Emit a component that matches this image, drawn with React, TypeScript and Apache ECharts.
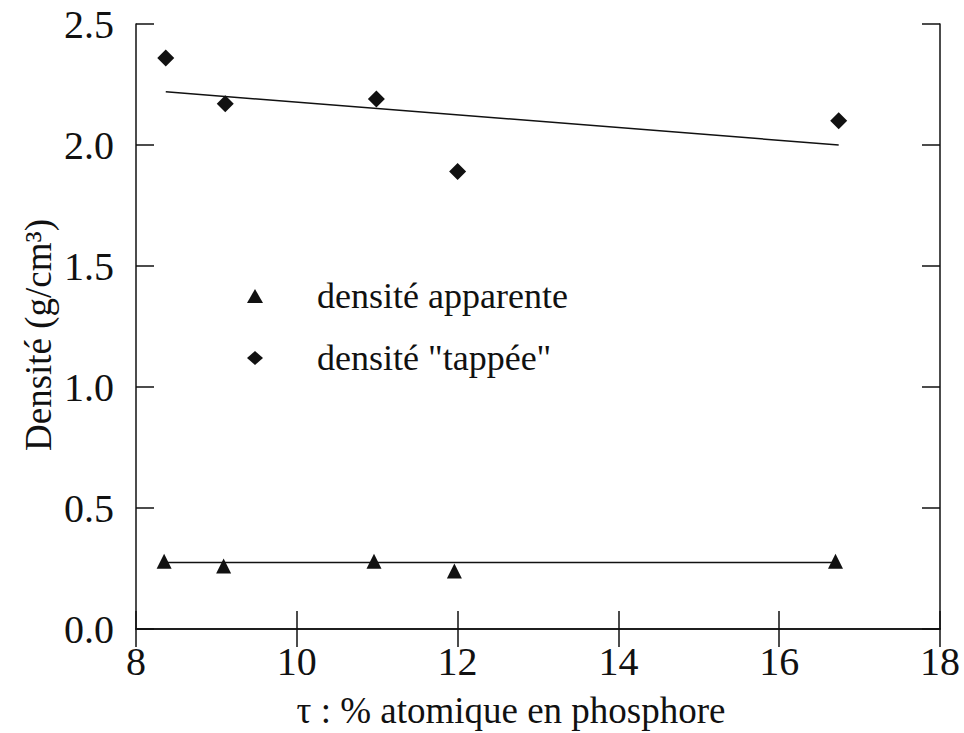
import React, { useEffect, useRef } from "react";
import * as echarts from "echarts";

// Data
const tauApparente = [8.35, 9.09, 10.96, 11.96, 16.7];
const densiteApparente = [0.28, 0.26, 0.28, 0.24, 0.28];
const tauTappee = [8.37, 9.11, 10.99, 12.0, 16.74];
const densiteTappee = [2.36, 2.17, 2.19, 1.89, 2.1];
// fitted straight lines (end points)
const fitApparenteX = [8.37, 16.7];
const fitApparenteY = [0.275, 0.275];
const fitTappeeX = [8.37, 16.74];
const fitTappeeY = [2.22, 2.0];
const xTicks = [8, 10, 12, 14, 16, 18];
const yTicks = [0, 0.5, 1.0, 1.5, 2.0, 2.5];

const FONT = "serif";
const INK = "#111";

export default function App() {
  const ref = useRef<HTMLDivElement>(null);
  useEffect(() => {
    document.body.style.margin = "0";
    if (!ref.current) return;
    const chart = echarts.init(ref.current, undefined, { renderer: "svg" });
    const pairs = (xs: number[], ys: number[]) => xs.map((x, i) => [x, ys[i]]);
    const axisLine = { show: true, lineStyle: { color: INK, width: 1.5 } };
    const tick = { show: true, inside: true, length: 18, lineStyle: { color: INK, width: 1.5 } };
    chart.setOption({
      animation: false,
      backgroundColor: "#fff",
      textStyle: { fontFamily: FONT },
      grid: { left: 136, right: 24, top: 24, bottom: 104, show: false },
      xAxis: [
        {
          type: "value", min: xTicks[0], max: xTicks[xTicks.length - 1], interval: 2,
          axisLine, axisTick: tick, splitLine: { show: false },
          axisLabel: { fontFamily: FONT, fontSize: 40, color: INK, margin: 12 },
        },
        {
          type: "value", position: "top", min: 8, max: 18, interval: 2,
          axisLine, axisTick: tick, splitLine: { show: false }, axisLabel: { show: false },
        },
      ],
      yAxis: [
        {
          type: "value", min: yTicks[0], max: yTicks[yTicks.length - 1], interval: 0.5,
          axisLine, axisTick: tick, splitLine: { show: false },
          axisLabel: { fontFamily: FONT, fontSize: 40, color: INK, margin: 22, formatter: (v: number) => v.toFixed(1) },
        },
        {
          type: "value", position: "right", min: 0, max: 2.5, interval: 0.5,
          axisLine, axisTick: tick, splitLine: { show: false }, axisLabel: { show: false },
        },
      ],
      legend: {
        data: ["densité apparente", 'densité "tappée"'],
        orient: "vertical",
        left: 242,
        top: 273,
        itemGap: 26,
        itemWidth: 16,
        itemHeight: 14,
        textStyle: { fontFamily: FONT, fontSize: 36, color: INK, padding: [0, 0, 0, 49] },
      },
      series: [
        {
          name: "densité apparente", type: "scatter", symbol: "triangle", symbolSize: 15,
          itemStyle: { color: INK, opacity: 1 }, data: pairs(tauApparente, densiteApparente), z: 3,
        },
        {
          name: 'densité "tappée"', type: "scatter", symbol: "diamond", symbolSize: 17,
          itemStyle: { color: INK, opacity: 1 }, data: pairs(tauTappee, densiteTappee), z: 3,
        },
        {
          name: "fit1", type: "line", symbol: "none", lineStyle: { color: INK, width: 1.5 },
          data: pairs(fitApparenteX, fitApparenteY),
        },
        {
          name: "fit2", type: "line", symbol: "none", lineStyle: { color: INK, width: 1.5 },
          data: pairs(fitTappeeX, fitTappeeY),
        },
      ],
      graphic: [
        {
          type: "text", x: 511, y: 710,
          style: { text: "τ : % atomique en phosphore", fontFamily: FONT, fontSize: 37, fill: INK, align: "center", verticalAlign: "middle" },
        },
        {
          type: "text", x: 38, y: 335, rotation: Math.PI / 2,
          style: { text: "Densité (g/cm³)", fontFamily: FONT, fontSize: 37, fill: INK, align: "center", verticalAlign: "middle" },
        },
      ],
    });
    return () => chart.dispose();
  }, []);
  return (
    <div style={{ position: "relative", width: 964, height: 733 }}>
      <div ref={ref} style={{ position: "absolute", left: 0, top: 0, width: 964, height: 733 }} />
      <span style={{ position: "absolute", right: 2, bottom: 2, fontFamily: "Liberation Serif", fontSize: 12, color: "#fff" }}>.</span>
    </div>
  );
}
